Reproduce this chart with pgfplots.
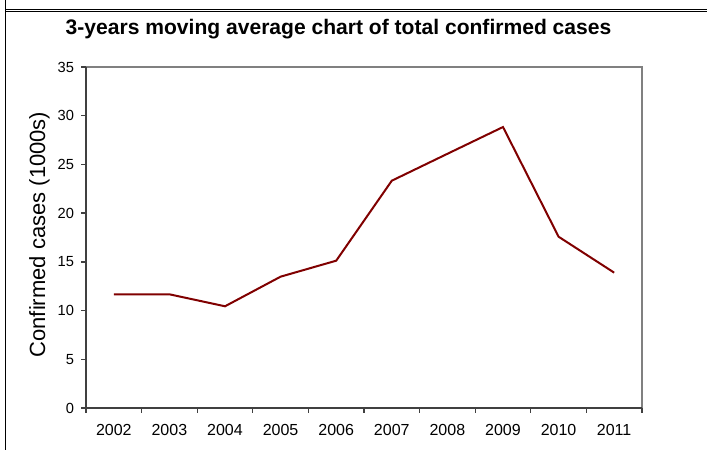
\documentclass[border=0pt]{standalone}
\usepackage{fontspec}
\setmainfont{Liberation Sans}
\usepackage{pgfplots}
\pgfplotsset{compat=1.18}

\definecolor{linered}{RGB}{128,0,0}
\definecolor{axisdark}{RGB}{64,64,64}
\definecolor{boxgray}{RGB}{128,128,128}

\begin{document}
\begin{tikzpicture}
% page: 707x450 px, 1 px = 0.75pt
\useasboundingbox (0,0) rectangle (530.25pt,337.5pt);
% cell border lines
\draw[line width=0.7pt] (4.1pt,337.5pt) -- (4.1pt,0pt);
\draw[line width=0.7pt] (4.1pt,330.5pt) -- (530.25pt,330.5pt);
\draw[line width=0.7pt] (4.1pt,328.7pt) -- (530.25pt,328.7pt);

\begin{axis}[
    at={(64.5pt,31.5pt)}, anchor=south west,
    scale only axis,
    width=417pt, height=255.75pt,
    xmin=2001.5, xmax=2011.5,
    ymin=0, ymax=35,
    xtick={2002,...,2011},
    minor xtick={2001.5,2002.5,...,2011.5},
    ytick={0,5,...,35},
    major x tick style={draw=none},
    tick align=outside,
    tick pos=left,
    major tick length=3.5pt,
    minor tick length=3.5pt,
    tick style={axisdark, line width=1pt},
    x tick label style={font=\fontsize{12}{14}\selectfont, yshift=-5pt},
    y tick label style={font=\fontsize{11}{13}\selectfont, xshift=-2pt},
    /pgf/number format/assume math mode=true,
    xticklabel={\pgfmathprintnumber[/pgf/number format/set thousands separator={}]{\tick}},
    axis line style={draw=none},
    clip=false,
]
% plot box
\draw[boxgray, line width=1.2pt] (axis cs:2001.5,35) -- (axis cs:2011.5,35) -- (axis cs:2011.5,0);
\draw[axisdark, line width=1.5pt] (axis cs:2001.5,35) -- (axis cs:2001.5,0) -- (axis cs:2011.5,0);

\addplot[color=linered, line width=1.5pt, mark=none] coordinates {
    (2002,11.67) (2003,11.67) (2004,10.44) (2005,13.48) (2006,15.12)
    (2007,23.33) (2008,26.09) (2009,28.84) (2010,17.58) (2011,13.89)
};
\end{axis}

% title
\node[anchor=base, font=\fontsize{15.8}{18}\selectfont\bfseries] at (253.9pt,311.25pt)
    {3-years moving average chart of total confirmed cases};
% y label
\node[anchor=base, rotate=90, font=\fontsize{16.5}{19}\selectfont] at (33.75pt,161.6pt)
    {Confirmed cases (1000s)};
\end{tikzpicture}
\end{document}
